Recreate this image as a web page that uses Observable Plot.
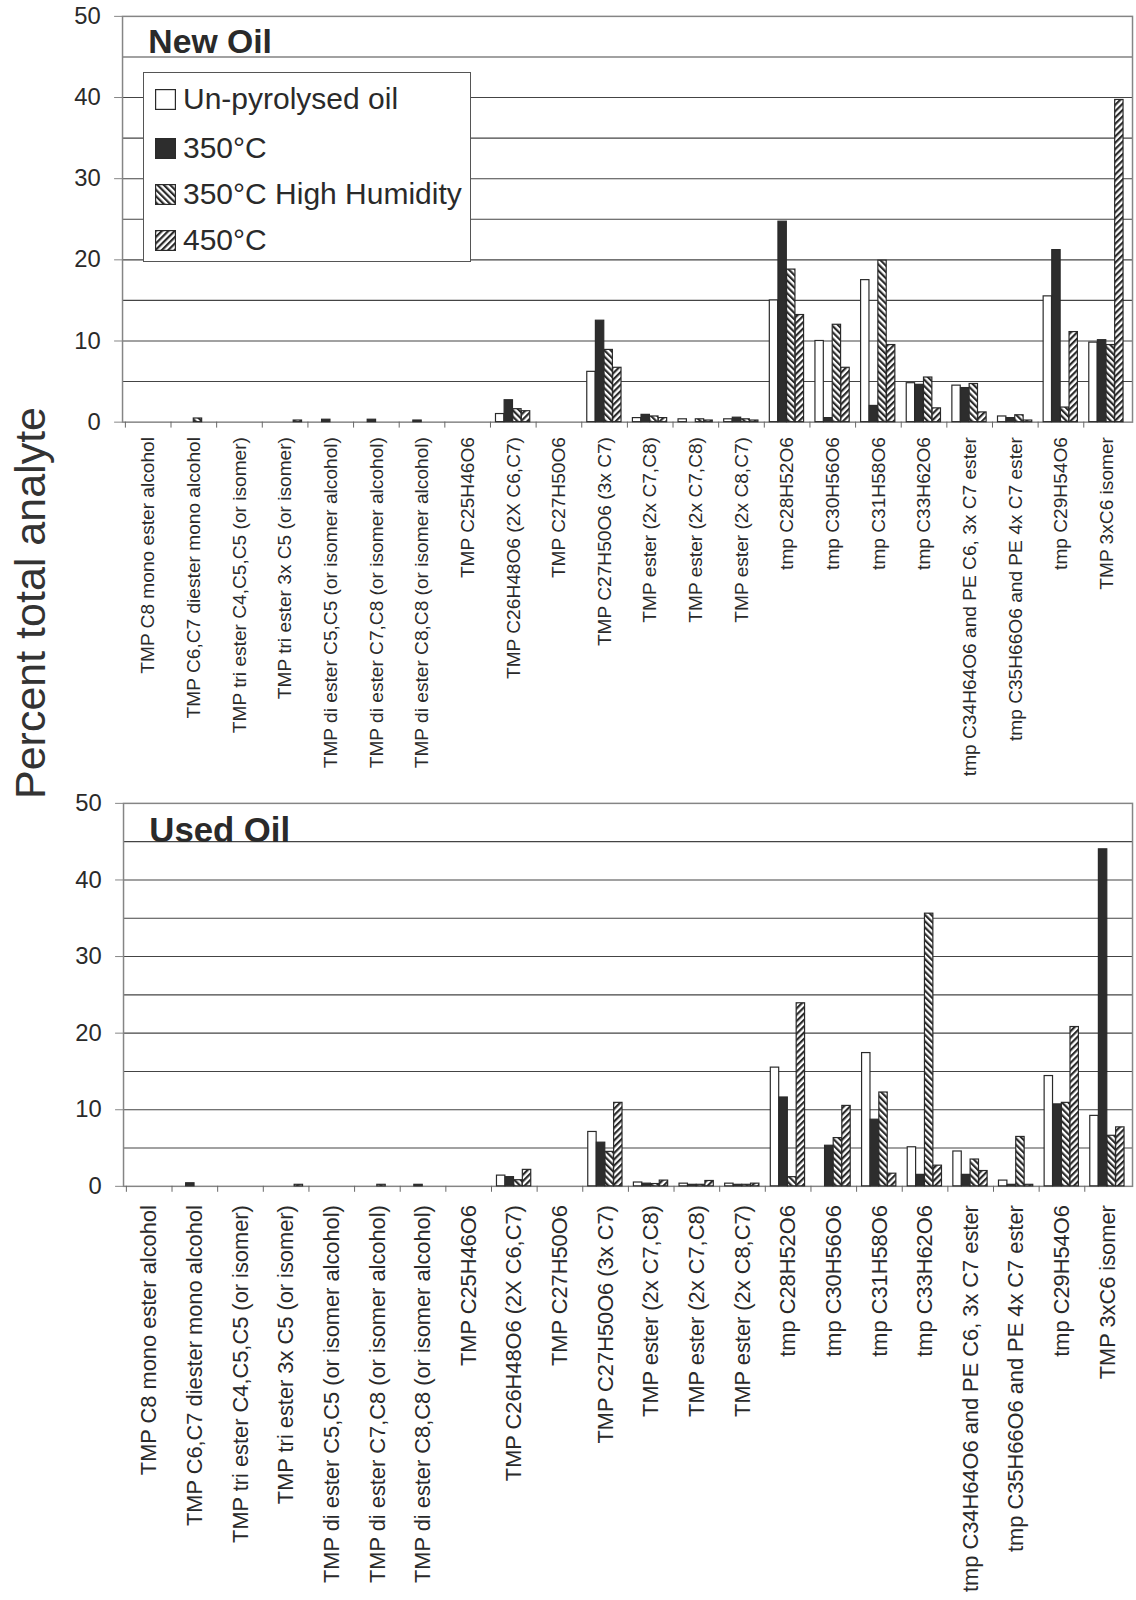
<!DOCTYPE html>
<html>
<head>
<meta charset="utf-8">
<script src="https://cdn.jsdelivr.net/npm/d3@7"></script>
<script src="https://cdn.jsdelivr.net/npm/@observablehq/plot@0.6"></script>
<style>
  html, body { margin: 0; padding: 0; background: #fff; }
  #page { position: relative; width: 1136px; height: 1600px; overflow: hidden; background: #fff;
          font-family: "Liberation Sans", Arial, Helvetica, sans-serif; color: #2a2a2a; }
  .panel { position: absolute; left: 0; }
  #ylabel { position: absolute; left: 30px; top: 603px; transform: translate(-50%, -50%) rotate(-90deg);
            font-size: 43px; white-space: nowrap; line-height: 1; color: #333; }
  #legend { position: absolute; left: 143px; top: 72px; width: 328px; height: 190px; box-sizing: border-box;
            border: 1.3px solid #555; background: #fff; }
  #legend .row { position: absolute; left: 11px; height: 30px; display: flex; align-items: center; font-size: 30px; }
  #legend .row svg { margin-right: 7px; flex: none; }
</style>
</head>
<body>
<div id="page">
  <svg width="0" height="0" style="position:absolute">
    <defs>
      <pattern id="hatch-humid" patternUnits="userSpaceOnUse" width="4.5" height="4.5" patternTransform="rotate(-45)">
        <rect width="4.5" height="4.5" fill="#fff"></rect>
        <rect width="2.2" height="4.5" fill="#2a2a2a"></rect>
      </pattern>
      <pattern id="hatch-450" patternUnits="userSpaceOnUse" width="4.5" height="4.5" patternTransform="rotate(45)">
        <rect width="4.5" height="4.5" fill="#fff"></rect>
        <rect width="2.2" height="4.5" fill="#2a2a2a"></rect>
      </pattern>
    </defs>
  </svg>
  <div id="ylabel">Percent total analyte</div>
</div>
<script>
// Analytes identified in the oil (same order for both panels)
const categories = [
  "TMP C8 mono ester alcohol",
  "TMP C6,C7 diester mono alcohol",
  "TMP tri ester C4,C5,C5 (or isomer)",
  "TMP tri ester 3x C5 (or isomer)",
  "TMP di ester C5,C5 (or isomer alcohol)",
  "TMP di ester C7,C8 (or isomer alcohol)",
  "TMP di ester C8,C8 (or isomer alcohol)",
  "TMP C25H46O6",
  "TMP C26H48O6 (2X C6,C7)",
  "TMP C27H50O6",
  "TMP C27H50O6 (3x C7)",
  "TMP ester (2x C7,C8)",
  "TMP ester (2x C7,C8)",
  "TMP ester (2x C8,C7)",
  "tmp C28H52O6",
  "tmp C30H56O6",
  "tmp C31H58O6",
  "tmp C33H62O6",
  "tmp C34H64O6 and PE C6, 3x C7 ester",
  "tmp C35H66O6 and PE 4x C7 ester",
  "tmp C29H54O6",
  "TMP 3xC6 isomer"
];

const seriesNames = ["Un-pyrolysed oil", "350°C", "350°C High Humidity", "450°C"];
const seriesFills = ["#ffffff", "#2d2d2d", "url(#hatch-humid)", "url(#hatch-450)"];

// New oil, percent of total analyte
const newUnpyrolysed = [0, 0, 0, 0, 0, 0, 0, 0, 1.0, 0, 6.2, 0.5, 0.35, 0.35, 15.0, 10.0, 17.5, 4.8, 4.5, 0.7, 15.5, 9.8];
const new350 =         [0, 0, 0, 0, 0.3, 0.3, 0.2, 0, 2.7, 0, 12.5, 0.9, 0, 0.55, 24.7, 0.5, 2.0, 4.6, 4.2, 0.5, 21.2, 10.1];
const new350Humid =    [0, 0.45, 0, 0, 0, 0, 0, 0, 1.6, 0, 8.9, 0.7, 0.35, 0.35, 18.8, 12.0, 19.9, 5.5, 4.7, 0.85, 1.8, 9.5];
const new450 =         [0, 0, 0, 0.2, 0, 0, 0, 0, 1.35, 0, 6.7, 0.5, 0.2, 0.2, 13.2, 6.7, 9.5, 1.7, 1.2, 0.2, 11.1, 39.7];

// Used oil, percent of total analyte
const usedUnpyrolysed = [0, 0, 0, 0, 0, 0, 0, 0, 1.4, 0, 7.1, 0.5, 0.35, 0.35, 15.5, 0, 17.4, 5.1, 4.55, 0.75, 14.4, 9.2];
const used350 =         [0, 0.4, 0, 0, 0, 0, 0.2, 0, 1.2, 0, 5.7, 0.35, 0.2, 0.2, 11.6, 5.3, 8.7, 1.5, 1.5, 0.2, 10.7, 44.0];
const used350Humid =    [0, 0, 0, 0, 0, 0.2, 0, 0, 0.8, 0, 4.5, 0.3, 0.2, 0.2, 1.2, 6.3, 12.25, 35.6, 3.5, 6.45, 10.9, 6.6];
const used450 =         [0, 0, 0, 0.2, 0, 0, 0, 0, 2.15, 0, 10.9, 0.75, 0.7, 0.35, 23.9, 10.5, 1.65, 2.7, 2.0, 0.2, 20.8, 7.7];

const yTicks = [0, 10, 20, 30, 40, 50];
const gridValues = [5, 10, 15, 20, 25, 30, 35, 40, 45];

const W = 1145;             // svg width; the last group runs to the page edge
const FONT = '"Liberation Sans", Arial, Helvetica, sans-serif';

function drawPanel(seriesValues, o) {
  const marginRight = 4;
  const n = categories.length;
  const step = (W - o.marginLeft - marginRight) / n;
  const padL = step * 0.117;     // gap before first bar in a group
  const bw = step * 0.188;       // width of one bar

  const barMarks = seriesValues.map((vals, k) =>
    Plot.barY(
      vals.map((v, i) => ({cat: i, value: v})).filter(d => d.value > 0),
      {
        x: "cat", y: "value",
        fill: seriesFills[k], stroke: "#2a2a2a", strokeWidth: 1.2,
        insetLeft: padL + k * bw,
        insetRight: step - padL - (k + 1) * bw
      }
    )
  );

  return Plot.plot({
    width: W,
    height: o.height,
    marginTop: o.marginTop,
    marginLeft: o.marginLeft,
    marginRight,
    marginBottom: o.marginBottom,
    style: {fontFamily: FONT, color: "#2a2a2a", background: "transparent", overflow: "visible"},
    x: {type: "band", domain: d3.range(n), padding: 0},
    y: {domain: [0, 50]},
    marks: [
      Plot.ruleY(gridValues, {stroke: "#444", strokeWidth: 1.1}),
      Plot.frame({stroke: "#858585", strokeWidth: 1.5}),
      ...barMarks,
      Plot.axisY({ticks: yTicks, tickSize: 8, tickPadding: 14, fontSize: 24, label: null, stroke: "#858585"}),
      Plot.axisX({tickSize: 0, tickPadding: o.labelPad, tickRotate: -90, fontSize: o.labelSize,
                  tickFormat: i => categories[i], label: null}),
      Plot.axisX({tickSize: 6, tickFormat: () => "", dx: -step / 2, label: null, stroke: "#666"}),
      Plot.text([o.title], {frameAnchor: "top-left", dx: 26, dy: o.titleDy, fontSize: o.titleSize,
                            fontWeight: "bold", fill: "#2a2a2a", lineAnchor: "top"})
    ]
  });
}

const page = document.getElementById("page");

const newOilPanel = drawPanel([newUnpyrolysed, new350, new350Humid, new450], {
  title: "New Oil", titleSize: 34, height: 780, marginTop: 16, marginLeft: 123, marginBottom: 355,
  labelPad: 15, labelSize: 19.3, titleDy: 13
});
newOilPanel.classList.add("panel");
newOilPanel.style.top = "0px";
page.appendChild(newOilPanel);

const usedOilPanel = drawPanel([usedUnpyrolysed, used350, used350Humid, used450], {
  title: "Used Oil", titleSize: 35, height: 814, marginTop: 16, marginLeft: 124, marginBottom: 412,
  labelPad: 19, labelSize: 22, titleDy: 14
});
usedOilPanel.classList.add("panel");
usedOilPanel.style.top = "787px";
page.appendChild(usedOilPanel);

// Legend for the four conditions, drawn over the upper panel
const legend = document.createElement("div");
legend.id = "legend";
const rowCenters = [26, 75, 121, 167];
seriesNames.forEach((name, k) => {
  const row = document.createElement("div");
  row.className = "row";
  row.style.top = (rowCenters[k] - 15) + "px";
  row.innerHTML =
    `<svg width="21" height="21"><rect x="0.6" y="0.6" width="19.8" height="19.8" fill="${seriesFills[k]}" stroke="#2a2a2a" stroke-width="1.2"></rect></svg>` +
    `<span>${name}</span>`;
  legend.appendChild(row);
});
page.appendChild(legend);
</script>
</body>
</html>
